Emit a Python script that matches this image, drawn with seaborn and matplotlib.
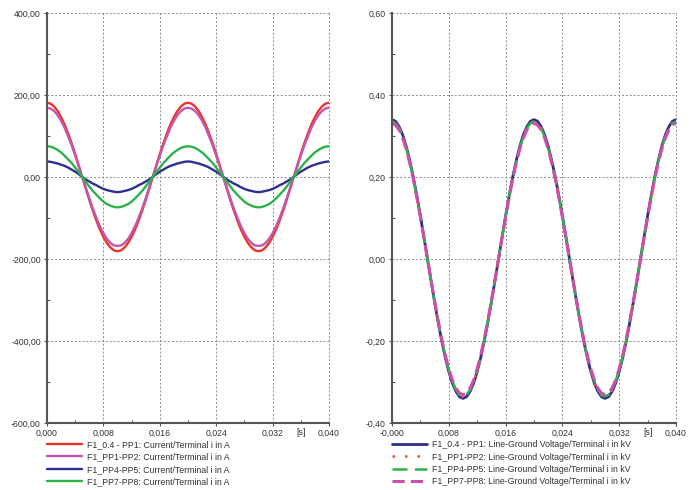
import numpy as np
import pandas as pd
import matplotlib
matplotlib.use("Agg")
import matplotlib.pyplot as plt
import seaborn as sns
from matplotlib.ticker import MultipleLocator

# sample times in ms (0.5 ms step, 0 .. 40 ms)
time_ms = [i * 0.5 for i in range(81)]

# currents in A
cur_pp1 = [181, 179, 172, 161, 146, 128, 106, 82, 56, 28, 0, -28, -56, -82, -106, -128, -146, -161, -172, -179,
           -181, -179, -172, -161, -146, -128, -106, -82, -56, -28, 0, 28, 56, 82, 106, 128, 146, 161, 172, 179,
           181, 179, 172, 161, 146, 128, 106, 82, 56, 28, 0, -28, -56, -82, -106, -128, -146, -161, -172, -179,
           -181, -179, -172, -161, -146, -128, -106, -82, -56, -28, 0, 28, 56, 82, 106, 128, 146, 161, 172, 179,
           181]
cur_pp2 = [169, 167, 161, 151, 137, 120, 99, 77, 52, 26, 0, -26, -52, -77, -99, -120, -137, -151, -161, -167,
           -168, -167, -161, -151, -137, -120, -99, -77, -52, -26, 0, 26, 52, 77, 99, 120, 137, 151, 161, 167,
           169, 167, 161, 151, 137, 120, 99, 77, 52, 26, 0, -26, -52, -77, -99, -120, -137, -151, -161, -167,
           -168, -167, -161, -151, -137, -120, -99, -77, -52, -26, 0, 26, 52, 77, 99, 120, 137, 151, 161, 167,
           169]
cur_pp5 = [38, 37, 35, 33, 30, 27, 23, 18, 13, 7, 0, -6, -11, -16, -20, -25, -29, -32, -34, -36,
           -37, -36, -34, -32, -29, -25, -20, -16, -11, -6, 0, 7, 13, 18, 23, 27, 30, 33, 35, 37,
           38, 37, 35, 33, 30, 27, 23, 18, 13, 7, 0, -6, -11, -16, -20, -25, -29, -32, -34, -36,
           -37, -36, -34, -32, -29, -25, -20, -16, -11, -6, 0, 7, 13, 18, 23, 27, 30, 33, 35, 37,
           38]
cur_pp8 = [75, 74, 71, 66, 60, 52, 43, 34, 23, 12, 0, -12, -23, -34, -43, -52, -60, -66, -70, -73,
           -74, -73, -70, -66, -60, -52, -43, -34, -23, -12, 0, 12, 23, 34, 43, 52, 60, 66, 71, 74,
           75, 74, 71, 66, 60, 52, 43, 34, 23, 12, 0, -12, -23, -34, -43, -52, -60, -66, -70, -73,
           -74, -73, -70, -66, -60, -52, -43, -34, -23, -12, 0, 12, 23, 34, 43, 52, 60, 66, 71, 74,
           75]

# line-ground voltages in kV
volt_pp1 = [0.340, 0.336, 0.323, 0.303, 0.275, 0.240, 0.200, 0.154, 0.105, 0.053,
            0.000, -0.053, -0.105, -0.154, -0.200, -0.240, -0.275, -0.303, -0.323, -0.336,
            -0.340, -0.336, -0.323, -0.303, -0.275, -0.240, -0.200, -0.154, -0.105, -0.053,
            0.000, 0.053, 0.105, 0.154, 0.200, 0.240, 0.275, 0.303, 0.323, 0.336,
            0.340, 0.336, 0.323, 0.303, 0.275, 0.240, 0.200, 0.154, 0.105, 0.053,
            0.000, -0.053, -0.105, -0.154, -0.200, -0.240, -0.275, -0.303, -0.323, -0.336,
            -0.340, -0.336, -0.323, -0.303, -0.275, -0.240, -0.200, -0.154, -0.105, -0.053,
            0.000, 0.053, 0.105, 0.154, 0.200, 0.240, 0.275, 0.303, 0.323, 0.336,
            0.340]
volt_pp2 = [0.336, 0.332, 0.320, 0.299, 0.272, 0.238, 0.198, 0.153, 0.104, 0.053,
            0.000, -0.053, -0.104, -0.153, -0.198, -0.238, -0.272, -0.299, -0.320, -0.332,
            -0.336, -0.332, -0.320, -0.299, -0.272, -0.238, -0.198, -0.153, -0.104, -0.053,
            0.000, 0.053, 0.104, 0.153, 0.198, 0.238, 0.272, 0.299, 0.320, 0.332,
            0.336, 0.332, 0.320, 0.299, 0.272, 0.238, 0.198, 0.153, 0.104, 0.053,
            0.000, -0.053, -0.104, -0.153, -0.198, -0.238, -0.272, -0.299, -0.320, -0.332,
            -0.336, -0.332, -0.320, -0.299, -0.272, -0.238, -0.198, -0.153, -0.104, -0.053,
            0.000, 0.053, 0.104, 0.153, 0.198, 0.238, 0.272, 0.299, 0.320, 0.332,
            0.336]
volt_pp5 = [0.335, 0.331, 0.319, 0.298, 0.271, 0.237, 0.197, 0.152, 0.104, 0.052,
            0.000, -0.052, -0.104, -0.152, -0.197, -0.237, -0.271, -0.298, -0.319, -0.331,
            -0.335, -0.331, -0.319, -0.298, -0.271, -0.237, -0.197, -0.152, -0.104, -0.052,
            0.000, 0.052, 0.104, 0.152, 0.197, 0.237, 0.271, 0.298, 0.319, 0.331,
            0.335, 0.331, 0.319, 0.298, 0.271, 0.237, 0.197, 0.152, 0.104, 0.052,
            0.000, -0.052, -0.104, -0.152, -0.197, -0.237, -0.271, -0.298, -0.319, -0.331,
            -0.335, -0.331, -0.319, -0.298, -0.271, -0.237, -0.197, -0.152, -0.104, -0.052,
            0.000, 0.052, 0.104, 0.152, 0.197, 0.237, 0.271, 0.298, 0.319, 0.331,
            0.335]
volt_pp8 = [0.331, 0.327, 0.315, 0.295, 0.268, 0.234, 0.195, 0.150, 0.102, 0.052,
            0.000, -0.052, -0.102, -0.150, -0.195, -0.234, -0.268, -0.295, -0.315, -0.327,
            -0.331, -0.327, -0.315, -0.295, -0.268, -0.234, -0.195, -0.150, -0.102, -0.052,
            0.000, 0.052, 0.102, 0.150, 0.195, 0.234, 0.268, 0.295, 0.315, 0.327,
            0.331, 0.327, 0.315, 0.295, 0.268, 0.234, 0.195, 0.150, 0.102, 0.052,
            0.000, -0.052, -0.102, -0.150, -0.195, -0.234, -0.268, -0.295, -0.315, -0.327,
            -0.331, -0.327, -0.315, -0.295, -0.268, -0.234, -0.195, -0.150, -0.102, -0.052,
            0.000, 0.052, 0.102, 0.150, 0.195, 0.234, 0.268, 0.295, 0.315, 0.327,
            0.331]

cur_labels = ['F1_0.4 - PP1: Current/Terminal i in A',
              'F1_PP1-PP2: Current/Terminal i in A',
              'F1_PP4-PP5: Current/Terminal i in A',
              'F1_PP7-PP8: Current/Terminal i in A']
volt_labels = ['F1_0.4 - PP1: Line-Ground Voltage/Terminal i in kV',
               'F1_PP1-PP2: Line-Ground Voltage/Terminal i in kV',
               'F1_PP4-PP5: Line-Ground Voltage/Terminal i in kV',
               'F1_PP7-PP8: Line-Ground Voltage/Terminal i in kV']

x_ticks = [0.0, 0.008, 0.016, 0.024, 0.032, 0.040]
left_xticklabels = ['0,000', '0,008', '0,016', '0,024', '0,032', '0,040']
right_xticklabels = ['-0,000', '0,008', '0,016', '0,024', '0,032', '0,040']
left_yticks = [-600, -400, -200, 0, 200, 400]
left_yticklabels = ['-600,00', '-400,00', '-200,00', '0,00', '200,00', '400,00']
right_yticks = [-0.4, -0.2, 0.0, 0.2, 0.4, 0.6]
right_yticklabels = ['-0,40', '-0,20', '0,00', '0,20', '0,40', '0,60']

RED = '#EC3326'
MAGENTA = '#C455B2'
NAVY = '#2E2F8E'
GREEN = '#2DB24A'

sns.set_style('white')
plt.rcParams['font.family'] = ['Liberation Sans', 'DejaVu Sans']
FS = 6.3
TXT = '#333333'

fig = plt.figure(figsize=(6.93, 4.90), dpi=100)
ax1 = fig.add_axes([47 / 693, 1 - 423 / 490, 282 / 693, 410 / 490])
ax2 = fig.add_axes([392 / 693, 1 - 423 / 490, 284 / 693, 410 / 490])

t = np.array(time_ms) / 1000.0


def style_axes(ax, yticks, yticklabels, xticklabels, ymin, ymax, yminor):
    ax.set_xlim(0, 0.040)
    ax.set_ylim(ymin, ymax)
    ax.set_xticks(x_ticks)
    ax.set_xticklabels(xticklabels, fontsize=FS, color=TXT)
    ax.set_yticks(yticks)
    ax.set_yticklabels(yticklabels, fontsize=FS, color=TXT)
    ax.xaxis.set_minor_locator(MultipleLocator(0.004))
    ax.yaxis.set_minor_locator(MultipleLocator(yminor))
    ax.tick_params(which='major', direction='out', length=2.5, width=0.8,
                   color='#555555', pad=2, bottom=True, left=True)
    ax.tick_params(which='minor', direction='in', length=2, width=0.8,
                   color='#555555', bottom=True, left=True)
    ax.grid(True, which='major', color='#8a8a8a', linestyle=(0, (2, 2)), linewidth=0.7)
    ax.set_axisbelow(True)
    for s in ['top', 'right']:
        ax.spines[s].set_visible(False)
    for s in ['left', 'bottom']:
        ax.spines[s].set_color('#555555')
        ax.spines[s].set_linewidth(1.5)
    for gl in ax.get_xgridlines() + ax.get_ygridlines():
        gl.set_clip_on(False)
    ax.set_xlabel('')
    ax.set_ylabel('')
    ax.text(0.036, -0.012, '[s]', transform=ax.get_xaxis_transform(),
            ha='center', va='top', fontsize=FS, color=TXT)


# left: currents
for vals, col, lab in zip([cur_pp1, cur_pp2, cur_pp5, cur_pp8],
                          [RED, MAGENTA, NAVY, GREEN], cur_labels):
    sns.lineplot(x=t, y=vals, ax=ax1, color=col, linewidth=1.7, label=lab)

# right: voltages
volt_styles = [
    dict(color=NAVY, linestyle='-', linewidth=2.0),
    dict(color='#F0522E', linestyle=(0, (1, 4)), linewidth=1.8),
    dict(color=GREEN, linestyle=(0, (6, 3)), linewidth=1.8),
    dict(color='#CC4FA8', linestyle=(0, (4, 2)), linewidth=2.2),
]
for vals, st, lab in zip([volt_pp1, volt_pp2, volt_pp5, volt_pp8], volt_styles, volt_labels):
    sns.lineplot(x=t, y=vals, ax=ax2, label=lab, **st)

style_axes(ax1, left_yticks, left_yticklabels, left_xticklabels, -600, 400, 100)
style_axes(ax2, right_yticks, right_yticklabels, right_xticklabels, -0.4, 0.6, 0.1)

for ax in (ax1, ax2):
    leg = ax.legend(loc='upper left', bbox_to_anchor=(0.0, -0.042), frameon=False,
                    fontsize=FS, handlelength=4.0, handletextpad=0.6,
                    labelspacing=0.38, borderaxespad=0, borderpad=0)
    for txt in leg.get_texts():
        txt.set_color(TXT)

fig.savefig('out.png', dpi=100)
